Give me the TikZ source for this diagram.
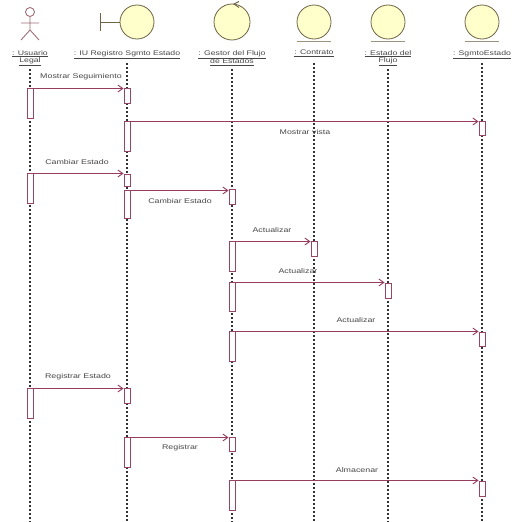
\documentclass[tikz,border=0pt]{standalone}
\usepackage{fontspec}
\setmainfont{Liberation Sans}
\newfontfamily\labfont{Liberation Sans}[FakeStretch=1.3]
\usetikzlibrary{arrows.meta}
\definecolor{msgc}{RGB}{150,60,95}
\definecolor{actc}{RGB}{150,70,100}
\definecolor{fillc}{RGB}{255,255,204}
\definecolor{circc}{RGB}{110,100,70}
\definecolor{txtc}{RGB}{70,70,70}
\definecolor{lifec}{RGB}{50,50,50}
\definecolor{manc}{RGB}{160,110,120}
\tikzset{
  act/.style={draw=actc, fill=white, line width=0.9pt, minimum width=6pt, inner sep=0pt, anchor=north},
  msg/.style={draw=msgc, line width=0.9pt, -{Straight Barb[length=5pt,width=7pt]}},
  life/.style={draw=lifec, line width=1.8pt, dash pattern=on 2pt off 2pt},
  lbl/.style={font=\labfont\fontsize{6.8}{7.8}\selectfont, text=txtc, inner sep=0pt},
  head/.style={font=\labfont\fontsize{6.7}{8}\selectfont, text=txtc, inner sep=0pt, anchor=north, align=center},
  obj/.style={draw=circc, fill=fillc, line width=0.8pt},
}
\begin{document}
\begin{tikzpicture}[x=1pt,y=-1pt]
\useasboundingbox (0,0) rectangle (513,522);
% ---- header icons
% actor
\draw[manc, line width=0.9pt] (30,12) circle (4.5);
\draw[manc, line width=0.9pt] (30,16.5) -- (30,30) (21,23) -- (39,23) (21,40) -- (30,30) -- (39,40);
% boundary
\draw[circc, line width=0.9pt] (100,13) -- (100,31) (100,22) -- (120,22);
\draw[obj] (137,22) circle (17);
% control
\draw[obj] (232,22) circle (18);
\draw[circc, line width=0.9pt] (239,1.5) -- (234,4) -- (239,7.5);
% entities
\foreach \cx in {314,388,482}{
  \draw[obj] (\cx,22) circle (17);
  \draw[circc!70, line width=0.9pt] (\cx-17,41) -- (\cx+17,41);
}
% ---- header labels
\node[head] (hU) at (30,50) {\underline{: Usuario}\\[-1pt]\underline{Legal}};
\node[head] (hI) at (127,50) {\underline{: IU Registro Sgmto Estado}};
\node[head] (hG) at (232,50) {\underline{: Gestor del Flujo}\\[-1pt]\underline{de Estados}};
\node[head] (hC) at (314,50) {\underline{: Contrato}};
\node[head] (hE) at (388,50) {\underline{: Estado del}\\[-1pt]\underline{Flujo}};
\node[head] (hS) at (482,50) {\underline{: SgmtoEstado}};
% ---- lifelines
\coordinate (bU) at (30,522);
\coordinate (bI) at (127,522);
\coordinate (bG) at (232,522);
\coordinate (bC) at (314,522);
\coordinate (bE) at (388,522);
\coordinate (bS) at (482,522);
\coordinate (tU) at (30,69);
\coordinate (tI) at (127,63);
\coordinate (tG) at (232,69);
\coordinate (tC) at (314,63);
\coordinate (tE) at (388,69);
\coordinate (tS) at (482,63);
\foreach \l in {U,I,G,C,E,S}{ \draw[life] (t\l) -- (b\l); }
% ---- activations
\node[act, minimum height=30pt] (U1) at (30,88) {};
\node[act, minimum height=30pt] (U2) at (30,173) {};
\node[act, minimum height=30pt] (U3) at (30,388) {};
\node[act, minimum height=15pt] (I1) at (127,88) {};
\node[act, minimum height=30pt] (I2) at (127,121) {};
\node[act, minimum height=12pt] (I3) at (127,174) {};
\node[act, minimum height=28pt] (I4) at (127,190) {};
\node[act, minimum height=15pt] (I5) at (127,388) {};
\node[act, minimum height=30pt] (I6) at (127,437) {};
\node[act, minimum height=15pt] (G1) at (232,189) {};
\node[act, minimum height=30pt] (G2) at (232,241) {};
\node[act, minimum height=29pt] (G3) at (232,282) {};
\node[act, minimum height=30pt] (G4) at (232,331) {};
\node[act, minimum height=14pt] (G5) at (232,437) {};
\node[act, minimum height=30pt] (G6) at (232,480) {};
\node[act, minimum height=15pt] (C1) at (314,241) {};
\node[act, minimum height=15pt] (E1) at (388,283) {};
\node[act, minimum height=14pt] (S1) at (482,121) {};
\node[act, minimum height=14pt] (S2) at (482,332) {};
\node[act, minimum height=15pt] (S3) at (482,481) {};
% ---- messages
\draw[msg] ([yshift=-0.5pt]U1.north east) -- ([yshift=-0.5pt]U1.north east -| I1.west);
\draw[msg] ([yshift=-0.5pt]I2.north east) -- ([yshift=-0.5pt]I2.north east -| S1.west);
\draw[msg] ([yshift=-0.5pt]U2.north east) -- ([yshift=-0.5pt]U2.north east -| I3.west);
\draw[msg] ([yshift=-0.5pt]I4.north east) -- ([yshift=-0.5pt]I4.north east -| G1.west);
\draw[msg] ([yshift=-0.5pt]G2.north east) -- ([yshift=-0.5pt]G2.north east -| C1.west);
\draw[msg] ([yshift=-0.5pt]G3.north east) -- ([yshift=-0.5pt]G3.north east -| E1.west);
\draw[msg] ([yshift=-0.5pt]G4.north east) -- ([yshift=-0.5pt]G4.north east -| S2.west);
\draw[msg] ([yshift=-0.5pt]U3.north east) -- ([yshift=-0.5pt]U3.north east -| I5.west);
\draw[msg] ([yshift=-0.5pt]I6.north east) -- ([yshift=-0.5pt]I6.north east -| G5.west);
\draw[msg] ([yshift=-0.5pt]G6.north east) -- ([yshift=-0.5pt]G6.north east -| S3.west);
% ---- message labels
\node[lbl] (L1) at (81,77) {Mostrar Seguimiento};
\node[lbl] (L2) at (305,132) {Mostrar vista};
\node[lbl] (L3) at (77,162) {Cambiar Estado};
\node[lbl] (L4) at (180,201) {Cambiar Estado};
\node[lbl] (L5) at (272,230) {Actualizar};
\node[lbl] (L6) at (298,271) {Actualizar};
\node[lbl] (L7) at (356,320) {Actualizar};
\node[lbl] (L8) at (78,377) {Registrar Estado};
\node[lbl] (L9) at (180,448) {Registrar};
\node[lbl] (L10) at (357,470) {Almacenar};
\end{tikzpicture}
\end{document}
